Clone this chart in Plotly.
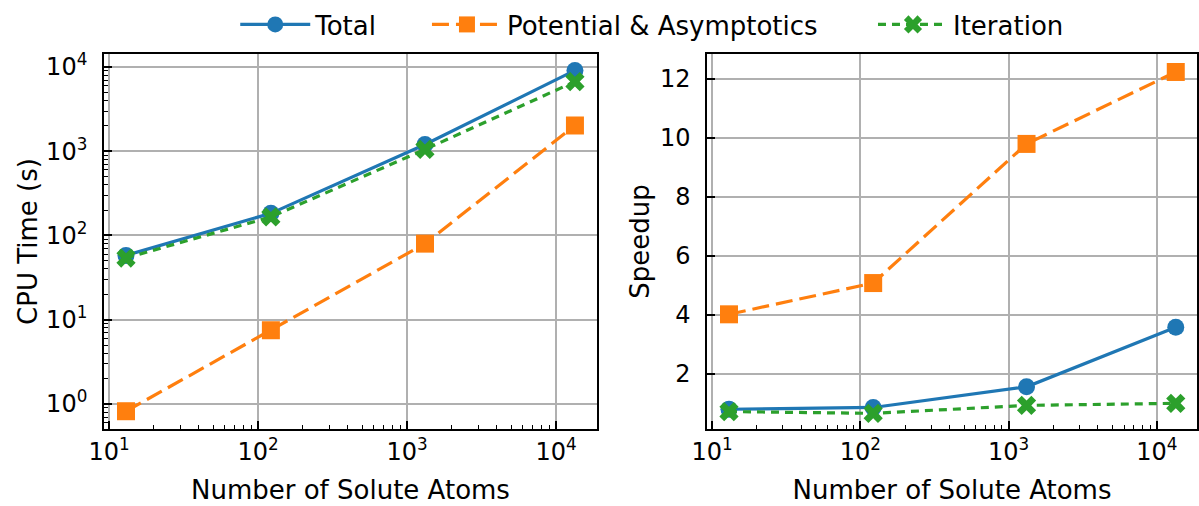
import plotly.graph_objects as go

# Problem sizes (number of solute atoms)
atoms = [13, 122, 1320, 13400]

# CPU time (s) per stage
cpu_total = [58, 183, 1200, 9100]
cpu_potential = [0.82, 7.5, 80, 2020]
cpu_iteration = [54, 166, 1050, 6700]

# Speedup per stage
speed_total = [0.80, 0.86, 1.56, 3.58]
speed_potential = [4.02, 5.08, 9.80, 12.24]
speed_iteration = [0.72, 0.66, 0.93, 1.00]

series_names = ["Total", "Potential & Asymptotics", "Iteration"]
colors = ["#1f77b4", "#ff7f0e", "#2ca02c"]
dashes = ["solid", "17px,7px", "8px,6px"]
symbols = ["circle", "square", "x"]
msizes = [17, 18, 17]
legend_ids = ["legend", "legend2", "legend3"]
legend_x = [0.1962, 0.3561, 0.7281]

FONT = "DejaVu Sans"
TICK_SIZE = 24
LABEL_SIZE = 26

fig = go.Figure()

cpu = [cpu_total, cpu_potential, cpu_iteration]
speed = [speed_total, speed_potential, speed_iteration]
for i in range(3):
    common = dict(
        mode="lines+markers",
        line=dict(color=colors[i], width=3.2, dash=dashes[i]),
        marker=dict(symbol=symbols[i], size=msizes[i], color=colors[i], line=dict(width=0)),
        name=series_names[i],
        legendgroup=series_names[i],
        legend=legend_ids[i],
    )
    fig.add_trace(go.Scatter(x=atoms, y=cpu[i], xaxis="x", yaxis="y", showlegend=True, **common))
    fig.add_trace(go.Scatter(x=atoms, y=speed[i], xaxis="x2", yaxis="y2", showlegend=False, **common))

x_tickvals = [10, 100, 1000, 10000]
x_ticktext = ["10<sup>1</sup>", "10<sup>2</sup>", "10<sup>3</sup>", "10<sup>4</sup>"]
y_tickvals = [1, 10, 100, 1000, 10000]
y_ticktext = ["10<sup>0</sup>", "10<sup>1</sup>", "10<sup>2</sup>", "10<sup>3</sup>", "10<sup>4</sup>"]

# minor ticks at 2..9 of each decade
x_minor_vals = [m * 10 ** d for d in range(1, 5) for m in range(2, 10)]
y_minor_vals = [m * 10 ** d for d in range(-1, 4) for m in range(2, 10)]

axis_common = dict(
    showline=True, linecolor="black", linewidth=1.6, mirror=True,
    showgrid=True, gridcolor="#b0b0b0", gridwidth=1.6,
    ticks="inside", ticklen=8, tickwidth=1.6, tickcolor="black",
    tickfont=dict(family=FONT, size=TICK_SIZE, color="black"),
    zeroline=False, automargin=False,
)


def log_minor(vals):
    return dict(tickmode="array", tickvals=vals, ticks="inside", ticklen=4,
                tickwidth=1.2, tickcolor="black", showgrid=False)


title_font = dict(family=FONT, size=LABEL_SIZE, color="black")

legend_style = dict(
    orientation="h", xanchor="left", y=0.998, yanchor="top",
    font=dict(family=FONT, size=LABEL_SIZE, color="black"),
    itemwidth=70, bgcolor="rgba(0,0,0,0)",
)

fig.update_layout(
    width=1199, height=506,
    margin=dict(l=0, r=0, t=0, b=0),
    paper_bgcolor="white", plot_bgcolor="white",
    font=dict(family=FONT, size=LABEL_SIZE, color="black"),
    showlegend=True,
    legend=dict(x=legend_x[0], **legend_style),
    legend2=dict(x=legend_x[1], **legend_style),
    legend3=dict(x=legend_x[2], **legend_style),
    xaxis=dict(
        type="log", domain=[0.0867, 0.4979], range=[0.966, 4.275], anchor="y",
        tickvals=x_tickvals, ticktext=x_ticktext, minor=log_minor(x_minor_vals),
        title=dict(text="Number of Solute Atoms", font=title_font, standoff=16),
        **axis_common,
    ),
    yaxis=dict(
        type="log", domain=[0.1522, 0.8933], range=[-0.297, 4.154], anchor="x",
        tickvals=y_tickvals, ticktext=y_ticktext, minor=log_minor(y_minor_vals),
        ticklabelstandoff=10,
        title=dict(text="CPU Time (s)", font=title_font, standoff=1),
        **axis_common,
    ),
    xaxis2=dict(
        type="log", domain=[0.5897, 0.9983], range=[0.966, 4.27], anchor="y2",
        tickvals=x_tickvals, ticktext=x_ticktext, minor=log_minor(x_minor_vals),
        title=dict(text="Number of Solute Atoms", font=title_font, standoff=16),
        **axis_common,
    ),
    yaxis2=dict(
        domain=[0.1522, 0.8933], range=[0.13, 12.85], anchor="x2",
        tickvals=[2, 4, 6, 8, 10, 12],
        ticklabelstandoff=10,
        title=dict(text="Speedup", font=title_font, standoff=3),
        **axis_common,
    ),
)

fig.write_html("out.html")
